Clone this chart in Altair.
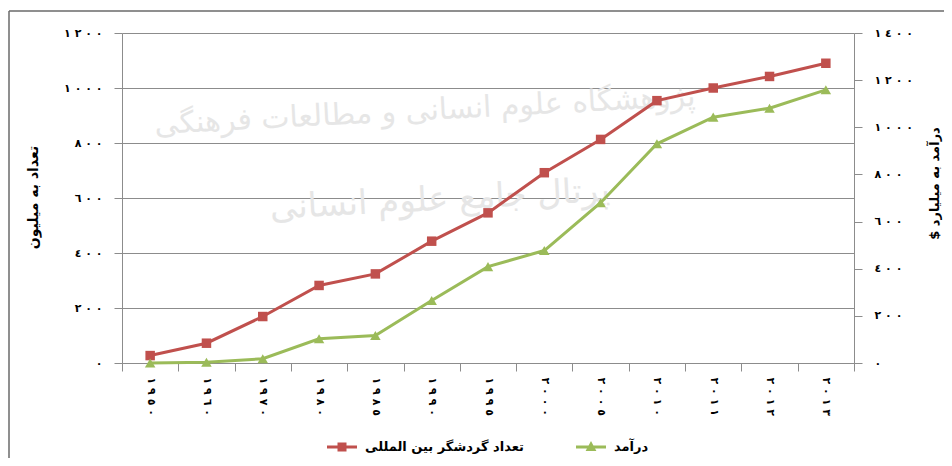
import json
import altair as alt
import pandas as pd

# ---- data ----
years = ["١٩٥٠", "١٩٦٠", "١٩٧٠", "١٩٨٠", "١٩٨٥", "١٩٩٠", "١٩٩٥",
         "٢٠٠٠", "٢٠٠٥", "٢٠١٠", "٢٠١١", "٢٠١٢", "٢٠١٣"]
tourists = [27, 72, 169, 282, 324, 443, 546, 692, 813, 954, 1000, 1042, 1090]
revenue = [0, 3, 18, 103, 117, 265, 409, 477, 680, 930, 1043, 1081, 1159]
series_tourists = "تعداد گردشگر بین المللی"
series_revenue = "درآمد"
left_title = "تعداد به میلیون"
right_title = "درآمد به میلیارد $"
left_ticks = [0, 200, 400, 600, 800, 1000, 1200]
right_ticks = [0, 200, 400, 600, 800, 1000, 1200, 1400]
watermark_lines = ["پژوهشگاه علوم انسانی و مطالعات فرهنگی", "پرتال جامع علوم انسانی"]

RED = "#C0504D"
GREEN = "#9BBB59"
GRID = "#8C8C8C"
FONT = "DejaVu Sans"
LRM = "\u200e"
RLM = "\u200f"

AR = "٠١٢٣٤٥٦٧٨٩"


def spaced(s):
    # wide digit spacing as in the reference, keeping left-to-right digit order
    return (LRM + " ").join(list(s))


def to_ar(n):
    return spaced("".join(AR[int(c)] for c in str(n)))


def label_expr(ticks):
    m = {str(v): to_ar(v) for v in ticks}
    return json.dumps(m, ensure_ascii=False) + "['' + datum.value]"


x_label_map = {y: spaced(y) for y in years}

rows = []
for y, t, r in zip(years, tourists, revenue):
    rows.append({"year": y, "series": series_tourists, "value": t})
    rows.append({"year": y, "series": series_revenue, "value": r})
df = pd.DataFrame(rows)

x_enc = alt.X(
    "year:N",
    sort=years,
    title=None,
    scale=alt.Scale(type="band", paddingInner=0, paddingOuter=0),
    axis=alt.Axis(
        tickBand="extent", tickSize=8, tickColor=GRID, domainColor=GRID,
        labelAngle=90, labelPadding=6, labelFontSize=11, labelFontWeight="bold",
        labelColor="black", grid=False, labelFont=FONT,
        labelExpr=json.dumps(x_label_map, ensure_ascii=False) + "[datum.value]",
    ),
)

left_scale = alt.Scale(domain=[0, 1200], nice=False, zero=True)
right_scale = alt.Scale(domain=[0, 1400], nice=False, zero=True)

left_axis = alt.Axis(
    values=left_ticks, labelExpr=label_expr(left_ticks), grid=True,
    gridColor=GRID, gridWidth=1, tickSize=8, tickColor=GRID, domainColor=GRID,
    labelFontSize=11, labelFontWeight="bold", labelColor="black", labelPadding=12,
    labelFont=FONT, title=left_title, titleAngle=-90, titleX=-89, titleY=164,
    titleAlign="center", titleBaseline="middle", titleFontSize=14,
    titleFontWeight="bold", titleColor="black", titleFont=FONT,
)
right_axis = alt.Axis(
    values=right_ticks, labelExpr=label_expr(right_ticks), grid=False,
    tickSize=8, tickColor=GRID, domainColor=GRID, orient="right",
    labelFontSize=11, labelFontWeight="bold", labelColor="black", labelPadding=12,
    labelFont=FONT, title=right_title + RLM, titleAngle=-90, titleX=80, titleY=150,
    titleAlign="center", titleBaseline="middle", titleFontSize=13,
    titleFontWeight="bold", titleColor="black", titleFont=FONT,
)

base = alt.Chart(df)

red = base.transform_filter(alt.datum.series == series_tourists)
green = base.transform_filter(alt.datum.series == series_revenue)

red_line = red.mark_line(color=RED, strokeWidth=3).encode(
    x=x_enc, y=alt.Y("value:Q", scale=left_scale, axis=left_axis))
red_pts = red.mark_point(filled=True, opacity=1, color=RED, shape="square", size=90).encode(
    x=x_enc, y=alt.Y("value:Q", scale=left_scale, axis=left_axis))

# invisible layer that only carries the legend (line + marker symbols)
sq_path = "M-1,-0.1H1V0.1H-1Z M-0.3,-0.3H0.3V0.3H-0.3Z"
tri_path = "M-1,-0.1H1V0.1H-1Z M0,-0.4L0.36,0.27H-0.36Z"
legend_props = dict(title=None, orient="none", legendX=205, legendY=399,
                    direction="horizontal", symbolSize=900,
                    symbolStrokeWidth=0, symbolOpacity=1,
                    labelFontSize=13, labelFontWeight="bold",
                    labelColor="black", labelFont=FONT, labelLimit=400,
                    labelOffset=8, columnPadding=52)
legend_layer = base.mark_point(filled=True, opacity=0, size=10).encode(
    x=x_enc,
    y=alt.Y("value:Q", scale=left_scale, axis=left_axis),
    color=alt.Color("series:N",
                    scale=alt.Scale(domain=[series_tourists, series_revenue], range=[RED, GREEN]),
                    legend=alt.Legend(**legend_props)),
    shape=alt.Shape("series:N",
                    scale=alt.Scale(domain=[series_tourists, series_revenue], range=[sq_path, tri_path]),
                    legend=alt.Legend(**legend_props)),
)

wm_df = pd.DataFrame({"text": watermark_lines})
wm1 = alt.Chart(wm_df).transform_filter(alt.datum.text == watermark_lines[0]).mark_text(
    color="#e6e6e6", fontSize=30, font=FONT, angle=357).encode(
    text="text:N", x=alt.value(303), y=alt.value(78))
wm2 = alt.Chart(wm_df).transform_filter(alt.datum.text == watermark_lines[1]).mark_text(
    color="#e6e6e6", fontSize=34, font=FONT, angle=357).encode(
    text="text:N", x=alt.value(318), y=alt.value(167))

left = alt.layer(wm1, wm2, red_line, red_pts, legend_layer)

green_line = green.mark_line(color=GREEN, strokeWidth=3).encode(
    x=x_enc, y=alt.Y("value:Q", scale=right_scale, axis=right_axis))
green_pts = green.mark_point(filled=True, opacity=1, color=GREEN, shape="triangle-up", size=110).encode(
    x=x_enc, y=alt.Y("value:Q", scale=right_scale, axis=right_axis))
right = alt.layer(green_line, green_pts)

frame_data = pd.DataFrame({"a": [0]})
frame_top = alt.Chart(frame_data).mark_rule(color="#6a6a6a", strokeWidth=1.5).encode(
    x=alt.value(-113), x2=alt.value(822), y=alt.value(-22))
frame_left = alt.Chart(frame_data).mark_rule(color="#6a6a6a", strokeWidth=1.5).encode(
    x=alt.value(-113), y=alt.value(-22), y2=alt.value(430))

chart = alt.layer(left, right, frame_top, frame_left).resolve_scale(
    y="independent"
).properties(
    width=732, height=330,
    padding={"left": 114, "top": 25, "right": 90, "bottom": 95},
    autosize=alt.AutoSizeParams(type="none"),
).configure_view(stroke=None).configure(font=FONT)

chart.save("out.html", embed_options={"renderer": "svg", "actions": False})
